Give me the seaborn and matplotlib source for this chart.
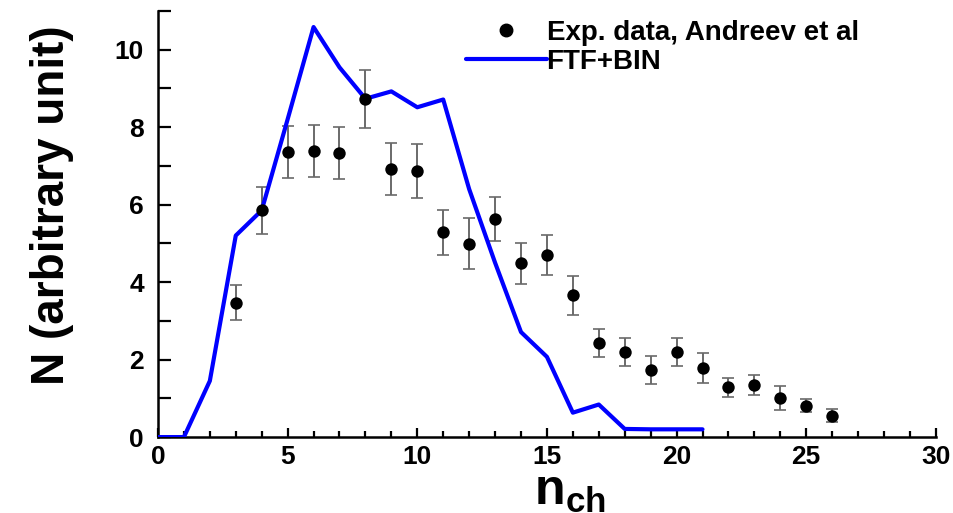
import matplotlib
matplotlib.use("Agg")
import matplotlib.pyplot as plt
import seaborn as sns
import pandas as pd
from matplotlib.ticker import MultipleLocator
from matplotlib.lines import Line2D

# ---- data ----
sim_x = [0, 1, 2, 3, 4, 5, 6, 7, 8, 9, 10, 11, 12, 13, 14, 15, 16, 17, 18, 19, 20, 21]
sim_y = [0, 0, 1.45, 5.2, 5.85, 8.2, 10.58, 9.54, 8.73, 8.92, 8.51, 8.71, 6.4, 4.5,
         2.71, 2.07, 0.63, 0.84, 0.21, 0.2, 0.2, 0.2]

exp_x = [3, 4, 5, 6, 7, 8, 9, 10, 11, 12, 13, 14, 15, 16, 17, 18, 19, 20, 21, 22, 23, 24, 25, 26]
exp_y = [3.47, 5.85, 7.35, 7.38, 7.34, 8.73, 6.92, 6.86, 5.29, 4.99, 5.62, 4.49, 4.69, 3.66,
         2.43, 2.2, 1.73, 2.2, 1.79, 1.28, 1.34, 1.02, 0.81, 0.55]
exp_err = [0.46, 0.6, 0.67, 0.68, 0.67, 0.75, 0.67, 0.69, 0.58, 0.65, 0.57, 0.53, 0.52, 0.5,
           0.36, 0.36, 0.35, 0.36, 0.39, 0.25, 0.26, 0.31, 0.16, 0.17]

label_exp = "Exp. data, Andreev et al"
label_sim = "FTF+BIN"
x_ticks = [0, 5, 10, 15, 20, 25, 30]
y_ticks = [0, 2, 4, 6, 8, 10]

sim_df = pd.DataFrame({"x": sim_x, "y": sim_y})
exp_df = pd.DataFrame({"x": exp_x, "y": exp_y, "err": exp_err})

sns.set_theme(style="ticks")
plt.rcParams["font.family"] = ["Liberation Sans", "DejaVu Sans"]
plt.rcParams["font.weight"] = "bold"
plt.rcParams["text.color"] = "black"
plt.rcParams["axes.labelcolor"] = "black"
plt.rcParams["xtick.color"] = "black"
plt.rcParams["ytick.color"] = "black"
plt.rcParams["xtick.direction"] = "in"
plt.rcParams["ytick.direction"] = "in"
plt.rcParams["mathtext.fontset"] = "custom"
plt.rcParams["mathtext.bf"] = "Liberation Sans:bold"
plt.rcParams["mathtext.rm"] = "Liberation Sans:bold"

fig = plt.figure(figsize=(9.54, 5.13), dpi=100)
ax = fig.add_axes([0.1656, 0.148, 0.8154, 0.831])

ax.errorbar(exp_df["x"], exp_df["y"], yerr=exp_df["err"], fmt="none",
            ecolor="#6a6a6a", elinewidth=1.4, capsize=4.5, capthick=1.2, zorder=2)
sns.lineplot(data=sim_df, x="x", y="y", ax=ax, color="#0000ff", linewidth=3.0,
             zorder=3, legend=False)
sns.scatterplot(data=exp_df, x="x", y="y", ax=ax, color="black", s=80,
                edgecolor="black", linewidth=0, zorder=4, legend=False)

ax.set_xlim(0, 30)
ax.set_ylim(0, 11)
ax.set_xticks(x_ticks)
ax.set_yticks(y_ticks)
ax.xaxis.set_minor_locator(MultipleLocator(1))
ax.yaxis.set_minor_locator(MultipleLocator(1))
ax.tick_params(axis="x", which="major", direction="in", length=6.5, width=1.6,
               labelsize=19, pad=6, colors="black")
ax.tick_params(axis="x", which="minor", direction="in", length=4, width=1.6, colors="black")
ax.tick_params(axis="y", which="both", direction="in", length=9.5, width=1.6,
               labelsize=19, pad=10, colors="black")
for lab in ax.get_xticklabels() + ax.get_yticklabels():
    lab.set_fontweight("bold")

sns.despine(ax=ax)
for sp in ["left", "bottom"]:
    ax.spines[sp].set_linewidth(1.8)
    ax.spines[sp].set_color("black")

ax.set_ylabel("N (arbitrary unit)", fontsize=33, fontweight="bold", color="black")
ax.yaxis.set_label_coords(-0.108, 0.545, transform=ax.transAxes)
ax.set_xlabel(r"$\mathbf{n}_{\mathbf{ch}}$", fontsize=36, color="black")
ax.xaxis.set_label_coords(0.53, -0.074, transform=ax.transAxes)
ax.xaxis.label.set_va("top")

handles = [Line2D([], [], marker="o", linestyle="none", color="black", markersize=9),
           Line2D([], [], color="#0000ff", linewidth=3.0)]
leg = ax.legend(handles, [label_exp, label_sim], loc="upper left",
                bbox_to_anchor=(0.396, 0.979), frameon=False, fontsize=20,
                handlelength=2.9, handletextpad=0.0, labelspacing=0.12,
                borderpad=0, borderaxespad=0)
for t in leg.get_texts():
    t.set_fontweight("bold")
    t.set_color("black")

fig.savefig("out.png", dpi=100)
